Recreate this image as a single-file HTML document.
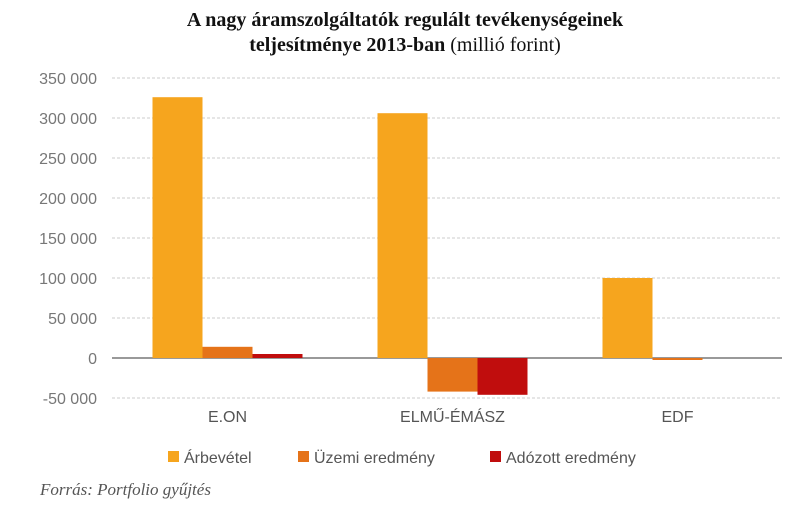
<!DOCTYPE html>
<html><head><meta charset="utf-8"><style>
body{margin:0;background:#fff;width:809px;height:512px;overflow:hidden;font-family:"Liberation Sans",sans-serif}
</style></head><body>
<svg width="809" height="512">
<text x="405" y="26" text-anchor="middle" font-family="Liberation Serif" font-weight="bold" font-size="20" fill="#111">A nagy áramszolgáltatók regulált tevékenységeinek</text>
<text x="405" y="51" text-anchor="middle" font-family="Liberation Serif" font-size="20" fill="#111"><tspan font-weight="bold">teljesítménye 2013-ban</tspan> (millió forint)</text>
<g id="grid"></g><g id="bars"></g><g id="xl"></g>
<g font-size="16" fill="#555">
<rect x="168" y="451" width="11" height="11" fill="#F6A51E"/><text x="184" y="463">Árbevétel</text>
<rect x="298" y="451" width="11" height="11" fill="#E57319"/><text x="314" y="463">Üzemi eredmény</text>
<rect x="490" y="451" width="11" height="11" fill="#C00D0D"/><text x="506" y="463">Adózott eredmény</text>
</g>
<text x="40" y="495" font-family="Liberation Serif" font-style="italic" font-size="17" fill="#555">Forrás: Portfolio gyűjtés</text>
</svg>
<script>
const categories=["E.ON","ELMŰ-ÉMÁSZ","EDF"];
const arbevetel=[326000,306000,100000];
const uzemi=[14000,-42000,-2500];
const adozott=[5000,-46000,0];
const ticks=[350000,300000,250000,200000,150000,100000,50000,0,-50000];
const tickLabels=["350 000","300 000","250 000","200 000","150 000","100 000","50 000","0","-50 000"];
const ns="http://www.w3.org/2000/svg";
const y=v=>358-v*0.0008;
const x0=115,gw=225;
function el(t,a,p){const e=document.createElementNS(ns,t);for(const k in a)e.setAttribute(k,a[k]);document.getElementById(p).appendChild(e);return e;}
ticks.forEach((t,i)=>{
 const l=el("line",{x1:112,x2:782,y1:y(t),y2:y(t),stroke:t===0?"#999":"#ccc","stroke-width":t===0?2:1,"stroke-dasharray":t===0?"":"3,2"},"grid");
 
 
 const tx=el("text",{x:97,y:y(t)+6,"text-anchor":"end","font-size":"16",fill:"#777"},"grid");
 tx.textContent=tickLabels[i];
 
 
});
const series=[arbevetel,uzemi,adozott],cols=["#F6A51E","#E57319","#C00D0D"];
categories.forEach((c,i)=>{
 const cx=x0+gw*i+gw/2;
 series.forEach((s,j)=>{
  const v=s[i];const top=Math.min(y(v),y(0)),h=Math.abs(y(v)-y(0));
  const r=el("rect",{x:cx-75+50*j,y:top,width:50,height:Math.max(h,0),fill:cols[j]},"bars");
  
  
 });
 const t=el("text",{x:cx,y:422,"text-anchor":"middle","font-size":"16",fill:"#555"},"xl");
 t.textContent=c;
 
 
});
</script>
</body></html>
